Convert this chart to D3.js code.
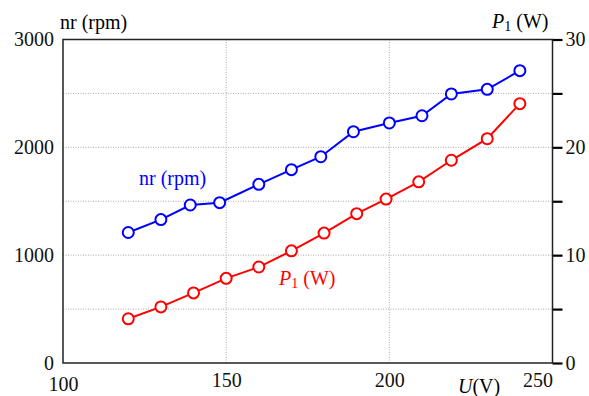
<!DOCTYPE html>
<html>
<head>
<meta charset="utf-8">
<script src="https://cdn.jsdelivr.net/npm/d3@7"></script>
<style>
  body { margin: 0; background: #fff; }
  svg, svg text { font-family: "Liberation Serif", "Times New Roman", serif; }
  svg { display: block; }
</style>
</head>
<body>
<div id="chart"></div>
<script>
const WIDTH = 589;
const HEIGHT = 396;
const MARGIN = { TOP: 39.5, BOTTOM: 33, LEFT: 63, RIGHT: 36.5 };

const width = WIDTH - MARGIN.LEFT - MARGIN.RIGHT;
const height = HEIGHT - MARGIN.TOP - MARGIN.BOTTOM;

// speed series (left axis)
const voltN = [120, 130, 139, 148, 160, 170, 179, 189, 200, 210, 219, 230, 240];
const speed = [1210, 1330, 1465, 1487, 1657, 1793, 1913, 2145, 2226, 2293, 2495, 2538, 2711];

// input power series (right axis)
const voltP = [120, 130, 140, 150, 160, 170, 180, 190, 199, 209, 219, 230, 240];
const power = [4.1, 5.2, 6.5, 7.85, 8.9, 10.4, 12.05, 13.85, 15.2, 16.8, 18.8, 20.8, 24.05];

const xTicks = [100, 150, 200, 250];
const leftTicks = [0, 1000, 2000, 3000];
const rightTicks = [0, 5, 10, 15, 20, 25, 30];
const gridX = [150, 200];
const gridY = [500, 1000, 1500, 2000, 2500];

const FONT = 20;

const svg = d3.select('#chart')
  .append('svg')
    .attr('width', WIDTH)
    .attr('height', HEIGHT);

const g = svg.append('g')
    .attr('transform', `translate(${MARGIN.LEFT}, ${MARGIN.TOP})`);

const x = d3.scaleLinear().domain([100, 250]).range([0, width]);
const yL = d3.scaleLinear().domain([0, 3000]).range([height, 0]);
const yR = d3.scaleLinear().domain([0, 30]).range([height, 0]);

// grid
g.append('g')
  .selectAll('line')
  .data(gridX)
  .enter().append('line')
    .attr('x1', d => x(d)).attr('x2', d => x(d))
    .attr('y1', 0).attr('y2', height)
    .attr('stroke', '#aaa')
    .attr('stroke-width', 1)
    .attr('stroke-dasharray', '1,1.5');

g.append('g')
  .selectAll('line')
  .data(gridY)
  .enter().append('line')
    .attr('x1', 0).attr('x2', width)
    .attr('y1', d => yL(d)).attr('y2', d => yL(d))
    .attr('stroke', '#aaa')
    .attr('stroke-width', 1)
    .attr('stroke-dasharray', '1,1.5');

// axes
const bottomAxis = g.append('g')
    .attr('transform', `translate(0, ${height})`)
    .call(d3.axisBottom(x).tickValues(xTicks).tickSize(0).tickPadding(10)
      .tickFormat(d3.format('d')));
bottomAxis.selectAll('text')
    .attr('text-anchor', d => d === 250 ? 'end' : 'middle')
    .attr('y', d => d === 100 ? 14 : 10);

g.append('g')
    .call(d3.axisLeft(yL).tickValues(leftTicks).tickSize(0).tickPadding(9)
      .tickFormat(d3.format('d')));

const rightAxis = g.append('g')
    .attr('transform', `translate(${width}, 0)`)
    .call(d3.axisRight(yR).tickValues(rightTicks).tickSize(10).tickPadding(3)
      .tickFormat(d => d % 10 === 0 ? d : ''));
rightAxis.selectAll('.tick line').attr('stroke-width', 2.2);

svg.selectAll('.tick text')
    .attr('font-size', FONT)
    .style('font-family', '"Liberation Serif", serif')
    .attr('fill', '#111');
svg.selectAll('.domain').remove();

// frame
g.append('rect')
    .attr('width', width)
    .attr('height', height)
    .attr('fill', 'none')
    .attr('stroke', '#222')
    .attr('stroke-width', 1.5);

// series
function drawSeries(xs, ys, yScale, colour) {
  const pts = xs.map((v, i) => [x(v), yScale(ys[i])]);
  g.append('path')
      .datum(pts)
      .attr('d', d3.line())
      .attr('fill', 'none')
      .attr('stroke', colour)
      .attr('stroke-width', 2);
  g.append('g')
    .selectAll('circle')
    .data(pts)
    .enter().append('circle')
      .attr('cx', d => d[0])
      .attr('cy', d => d[1])
      .attr('r', 5.5)
      .attr('fill', '#fff')
      .attr('stroke', colour)
      .attr('stroke-width', 2);
}

drawSeries(voltN, speed, yL, '#0000ff');
drawSeries(voltP, power, yR, '#ff0000');

// labels
svg.append('text')
    .attr('x', 60).attr('y', 29)
    .attr('font-size', FONT)
    .text('nr (rpm)');

const pTop = svg.append('text')
    .attr('x', 492).attr('y', 28)
    .attr('font-size', FONT);
pTop.append('tspan').attr('font-style', 'italic').text('P');
pTop.append('tspan').attr('font-size', 14).attr('dy', 3).text('1');
pTop.append('tspan').attr('dy', -3).text(' (W)');

const uLab = svg.append('text')
    .attr('x', 458).attr('y', 393)
    .attr('font-size', FONT);
uLab.append('tspan').attr('font-style', 'italic').text('U');
uLab.append('tspan').text('(V)');

svg.append('text')
    .attr('x', 139).attr('y', 185)
    .attr('font-size', FONT)
    .attr('fill', '#0000ff')
    .text('nr (rpm)');

const pIn = svg.append('text')
    .attr('x', 279).attr('y', 285)
    .attr('font-size', FONT)
    .attr('fill', '#ff0000');
pIn.append('tspan').attr('font-style', 'italic').text('P');
pIn.append('tspan').attr('font-size', 14).attr('dy', 3).text('1');
pIn.append('tspan').attr('dy', -3).text(' (W)');
</script>
</body>
</html>
